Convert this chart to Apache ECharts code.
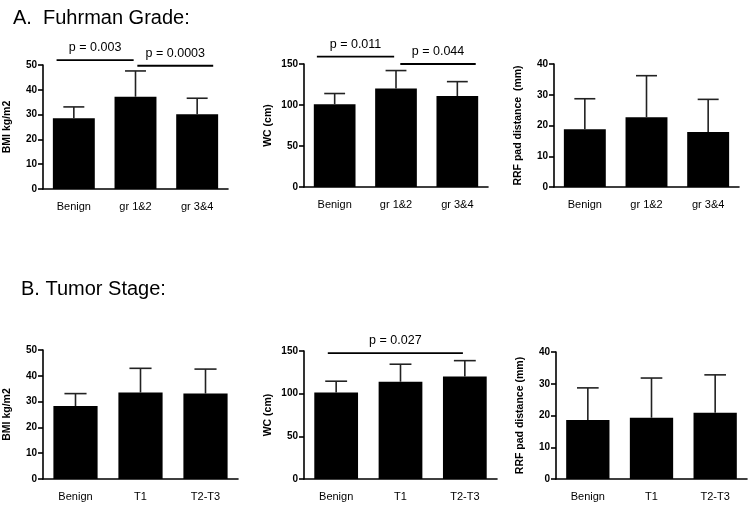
<!DOCTYPE html>
<html>
<head>
<meta charset="utf-8">
<script src="https://cdn.jsdelivr.net/npm/echarts@6/dist/echarts.min.js"></script>
<style>
  html, body { margin: 0; padding: 0; background: #fff; }
  #chart { width: 754px; height: 514px; }
</style>
</head>
<body>
<div id="chart"></div>
<script>
// ---- data (mean, upper SD) ----
var gradeCats = ['Benign', 'gr 1&2', 'gr 3&4'];
var stageCats = ['Benign', 'T1', 'T2-T3'];

var bmiGrade = [28.5, 37.2, 30.1];
var bmiGradeSd = [4.6, 10.4, 6.5];
var wcGrade = [101, 120, 111];
var wcGradeSd = [13, 22, 17.5];
var rrfGrade = [18.8, 22.7, 17.9];
var rrfGradeSd = [9.9, 13.5, 10.6];

var bmiStage = [28.3, 33.5, 33.1];
var bmiStageSd = [4.8, 9.4, 9.5];
var wcStage = [101.3, 114, 120];
var wcStageSd = [13.3, 20.5, 18.7];
var rrfStage = [18.6, 19.3, 20.9];
var rrfStageSd = [10.1, 12.5, 11.9];

// significance brackets: [from index, to index, level, text]
var bmiGradeP = [[0, 1, 52, 'p = 0.003'], [1, 2, 49.7, 'p = 0.0003']];
var wcGradeP = [[0, 1, 159, 'p = 0.011'], [1, 2, 150, 'p = 0.044']];
var wcStageP = [[0, 2, 147.4, 'p = 0.027']];

// ---- layout ----
var FONT = 'Liberation Sans, Arial, Helvetica, sans-serif';
var panels = [
  { cats: gradeCats, vals: bmiGrade, sd: bmiGradeSd, p: bmiGradeP, name: 'BMI kg/m2', max: 50, step: 10,
    grid: { left: 43, right: 754 - 228, top: 65, bottom: 514 - 189 }, nudge: [[-0.28, -0.03], [0.03, 0.26]] },
  { cats: gradeCats, vals: wcGrade, sd: wcGradeSd, p: wcGradeP, name: 'WC (cm)', max: 150, step: 50,
    grid: { left: 304, right: 754 - 488, top: 64, bottom: 514 - 187 }, nudge: [[-0.29, -0.03], [0.07, 0.3]] },
  { cats: gradeCats, vals: rrfGrade, sd: rrfGradeSd, p: [], name: 'RRF pad distance  (mm)', max: 40, step: 10,
    grid: { left: 554, right: 754 - 739, top: 64, bottom: 514 - 187 } },
  { cats: stageCats, vals: bmiStage, sd: bmiStageSd, p: [], name: 'BMI kg/m2', max: 50, step: 10,
    grid: { left: 43, right: 754 - 238, top: 350, bottom: 514 - 479 } },
  { cats: stageCats, vals: wcStage, sd: wcStageSd, p: wcStageP, name: 'WC (cm)', max: 150, step: 50,
    grid: { left: 304, right: 754 - 497, top: 351, bottom: 514 - 479 }, nudge: [[-0.13, -0.03]] },
  { cats: stageCats, vals: rrfStage, sd: rrfStageSd, p: [], name: 'RRF pad distance (mm)', max: 40, step: 10,
    grid: { left: 556, right: 754 - 747, top: 352, bottom: 514 - 479 } }
];

var grids = [], xAxes = [], yAxes = [], series = [];

panels.forEach(function (pn, i) {
  grids.push(pn.grid);
  xAxes.push({
    type: 'category', gridIndex: i, data: pn.cats,
    axisLine: { lineStyle: { color: '#000', width: 1.6 } },
    axisTick: { alignWithLabel: true, length: 4, lineStyle: { color: '#000', width: 1.6 } },
    axisLabel: { color: '#000', fontFamily: FONT, fontSize: 11, margin: 12 }
  });
  yAxes.push({
    type: 'value', gridIndex: i, min: 0, max: pn.max, interval: pn.step,
    name: pn.name, nameLocation: 'middle', nameGap: 30, nameRotate: 90,
    nameTextStyle: { color: '#000', fontFamily: FONT, fontSize: 10.5, fontWeight: 'bold' },
    axisLine: { show: true, lineStyle: { color: '#000', width: 1.6 } },
    axisTick: { show: true, length: 5, lineStyle: { color: '#000', width: 1.6 } },
    axisLabel: { color: '#000', fontFamily: FONT, fontSize: 10, fontWeight: 'bold', margin: 6 },
    splitLine: { show: false }
  });

  series.push({
    type: 'bar', xAxisIndex: i, yAxisIndex: i, data: pn.vals,
    barCategoryGap: '32%', itemStyle: { color: '#000' }, silent: true, z: 2
  });

  // error bars (upper only)
  series.push({
    type: 'custom', xAxisIndex: i, yAxisIndex: i, z: 3, silent: true,
    data: pn.vals.map(function (v, k) { return [k, v, v + pn.sd[k]]; }),
    renderItem: function (params, api) {
      var p0 = api.coord([api.value(0), api.value(1)]);
      var p1 = api.coord([api.value(0), api.value(2)]);
      var cap = api.size([1, 0])[0] * 0.68 / 4;
      var st = { stroke: '#222', lineWidth: 1.6 };
      return {
        type: 'group', children: [
          { type: 'line', shape: { x1: p0[0], y1: p0[1], x2: p1[0], y2: p1[1] }, style: st },
          { type: 'line', shape: { x1: p1[0] - cap, y1: p1[1], x2: p1[0] + cap, y2: p1[1] }, style: st }
        ]
      };
    }
  });

  if (pn.p.length) {
    series.push({
      type: 'custom', xAxisIndex: i, yAxisIndex: i, z: 4, silent: true, clip: false,
      data: pn.p.map(function (b) { return [b[0], b[2]]; }),
      renderItem: function (params, api) {
        var b = pn.p[params.dataIndex];
        var nd = pn.nudge[params.dataIndex];
        var bw = api.size([1, 0])[0];
        var a = api.coord([b[0], b[2]]);
        var c = api.coord([b[1], b[2]]);
        var x1 = a[0] + nd[0] * bw, x2 = c[0] + nd[1] * bw, y = a[1];
        return {
          type: 'group', children: [
            { type: 'line', shape: { x1: x1, y1: y, x2: x2, y2: y }, style: { stroke: '#000', lineWidth: 1.8 } },
            { type: 'text', x: (x1 + x2) / 2, y: y - 6,
              style: { text: b[3], fill: '#000', font: '12.5px ' + FONT, align: 'center', verticalAlign: 'bottom' } }
          ]
        };
      }
    });
  }
});

var chart = echarts.init(document.getElementById('chart'), null, { renderer: 'canvas' });
chart.setOption({
  animation: false,
  backgroundColor: '#fff',
  title: [
    { text: 'A.  Fuhrman Grade:', left: 8, top: 3, textStyle: { fontFamily: FONT, fontSize: 20, fontWeight: 'normal', color: '#000' } },
    { text: 'B. Tumor Stage:', left: 16, top: 274, textStyle: { fontFamily: FONT, fontSize: 20, fontWeight: 'normal', color: '#000' } }
  ],
  grid: grids,
  xAxis: xAxes,
  yAxis: yAxes,
  series: series
});
</script>
</body>
</html>
